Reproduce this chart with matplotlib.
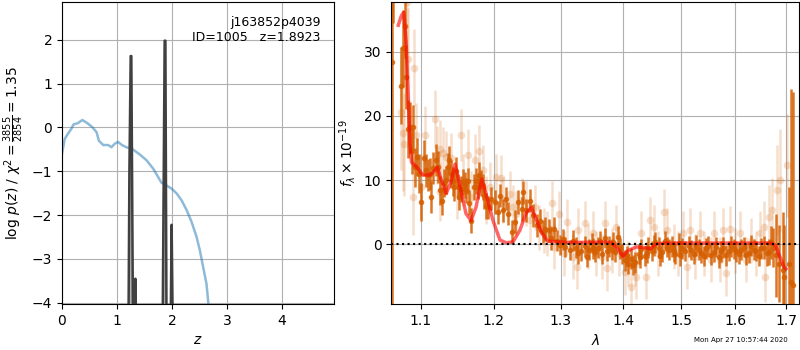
import numpy as np
import matplotlib
matplotlib.use('Agg')
import matplotlib.pyplot as plt
from matplotlib.ticker import NullLocator, FormatStrFormatter

# chi2 curve (scaled) vs redshift
chi_z = [0.00, 0.05, 0.11, 0.17, 0.21, 0.29, 0.37, 0.46, 0.55, 0.63, 0.67, 0.75,
         0.84, 0.90, 0.96, 1.02, 1.09, 1.17, 1.29, 1.42, 1.54, 1.66, 1.75, 1.81,
         1.90, 2.00, 2.09, 2.18, 2.27, 2.36, 2.45, 2.51, 2.57, 2.63, 2.67]
chi_y = [-0.60, -0.26, -0.14, -0.03, 0.07, 0.10, 0.17, 0.10, 0.01, -0.11, -0.30, -0.40,
         -0.40, -0.45, -0.37, -0.33, -0.40, -0.45, -0.50, -0.62, -0.75, -0.94, -1.13, -1.26,
         -1.32, -1.40, -1.51, -1.67, -1.89, -2.16, -2.50, -2.81, -3.19, -3.57, -4.10]

# log p(z)
pz_z = [0.00, 1.210, 1.226, 1.250, 1.262, 1.292, 1.318, 1.335, 1.345,
        1.832, 1.868, 1.882, 1.902, 1.978, 1.995, 2.015, 4.95]
pz_log = [-4.5, -4.5, -1.05, 1.63, 1.63, -4.5, -4.5, -3.45, -4.5,
          -4.5, 1.98, 1.98, -4.5, -4.5, -2.22, -4.5, -4.5]

# binned spectrum
wave_bin = [1.0625, 1.0645, 1.0745, 1.0770, 1.0795, 1.0815, 1.0835, 1.0860, 1.0885, 1.0905,
            1.0925, 1.0950, 1.0975, 1.1005, 1.1043, 1.1070, 1.1096, 1.1118, 1.1140, 1.1165,
            1.1204, 1.1227, 1.1262, 1.1284, 1.1310, 1.1338, 1.1360, 1.1383, 1.1405, 1.1430,
            1.1451, 1.1473, 1.1495, 1.1519, 1.1542, 1.1565, 1.1590, 1.1610, 1.1633, 1.1655,
            1.1679, 1.1717, 1.1749, 1.1775, 1.1797, 1.1820, 1.1844, 1.1868, 1.1891, 1.1925,
            1.1960, 1.2020, 1.2060, 1.2090, 1.2130, 1.2180, 1.2210, 1.2260, 1.2310, 1.2350,
            1.2410, 1.2430, 1.2470, 1.2530, 1.2580, 1.2630, 1.2680, 1.2720, 1.2760, 1.2810,
            1.2850, 1.2890, 1.2940, 1.2990, 1.3030, 1.3070, 1.3140, 1.3190, 1.3230, 1.3270,
            1.3320, 1.3380, 1.3410, 1.3440, 1.3490, 1.3515, 1.3540, 1.3590, 1.3620, 1.3650,
            1.3700, 1.3730, 1.3760, 1.3810, 1.3840, 1.3870, 1.3920, 1.3950, 1.3980, 1.4030,
            1.4060, 1.4090, 1.4140, 1.4170, 1.4200, 1.4260, 1.4285, 1.4310, 1.4370, 1.4400,
            1.4430, 1.4490, 1.4520, 1.4550, 1.4610, 1.4635, 1.4660, 1.4720, 1.4750, 1.4780,
            1.4840, 1.4870, 1.4900, 1.4960, 1.4985, 1.5010, 1.5080, 1.5140, 1.5185, 1.5230,
            1.5275, 1.5320, 1.5365, 1.5410, 1.5455, 1.5500, 1.5550, 1.5600, 1.5645, 1.5690,
            1.5735, 1.5780, 1.5830, 1.5880, 1.5930, 1.5980, 1.6025, 1.6070, 1.6120, 1.6170,
            1.6215, 1.6260, 1.6310, 1.6360, 1.6410, 1.6460, 1.6510, 1.6560, 1.6610, 1.6660,
            1.6700, 1.6740, 1.6800, 1.6860, 1.6930, 1.6970, 1.7060, 1.7110, 1.7140]
flux_bin = [28.4, 42.0, 24.7, 30.5, 34.0, 26.1, 18.0, 18.2, 14.5, 18.2,
            12.0, 13.6, 11.0, 6.6, 13.4, 11.5, 10.8, 11.0, 7.4, 11.9,
            13.1, 12.0, 8.4, 6.8, 9.5, 10.0, 12.0, 13.1, 11.0, 9.8,
            8.9, 11.4, 9.0, 7.4, 8.6, 9.7, 9.2, 8.4, 9.9, 6.5,
            3.7, 8.9, 9.9, 9.0, 10.8, 9.5, 8.9, 7.5, 6.0, 5.8,
            7.1, 6.6, 5.0, 7.6, 5.3, 7.1, 4.8, 1.95, 3.5, 6.6,
            5.5, 8.1, 5.3, 6.8, 4.5, 3.0, 3.7, 2.0, 2.4, 2.2,
            1.0, 2.4, 0.6, -0.1, 0.8, -0.4, -0.9, 0.6, -0.5, -1.4,
            -1.0, -0.3, -1.9, -0.8, 0.2, -0.6, -1.2, -0.5, 0.5, -1.5,
            1.0, -1.0, -0.3, -0.8, 0.4, -1.2, 1.2, -0.6, -1.5, -2.5,
            -1.8, -3.0, -2.2, -3.2, -2.8, -1.5, -2.0, -0.7, -1.8, -1.3,
            -0.5, -1.0, -0.2, 0.3, -0.5, -1.8, -1.2, 0.5, -0.4, -0.8,
            -0.3, -1.1, -1.5, 0.2, -1.7, -0.6, -1.0, -0.3, -0.9, -1.5,
            -0.2, -0.8, -1.3, -1.8, -0.6, -0.3, -1.6, -1.2, -0.4, -2.0,
            -1.1, -0.5, -1.7, -1.0, -0.3, -0.7, -1.1, -1.5, -0.8, -0.4,
            -1.6, -1.3, -0.2, -0.8, -1.0, -1.8, -0.6, -0.5, -1.4, -1.2,
            0.3, -0.5, -1.7, -3.0, -4.0, -5.0, -3.0, -5.8, -6.3]
err_bin = [40.0, 7.6, 6.0, 6.0, 5.0, 5.0, 4.5, 4.0, 3.5, 3.5,
           3.0, 3.0, 3.0, 3.0, 2.8, 2.5, 2.5, 2.5, 2.5, 2.5,
           2.5, 2.5, 2.2, 2.2, 2.2, 2.2, 2.2, 2.2, 2.2, 2.2,
           2.2, 2.2, 2.0, 2.0, 2.0, 2.0, 2.0, 2.0, 2.0, 2.0,
           2.0, 2.0, 2.0, 2.0, 2.0, 2.0, 2.0, 2.0, 2.0, 1.8,
           1.8, 1.8, 1.8, 1.8, 1.8, 1.8, 1.8, 1.8, 1.8, 1.8,
           1.8, 1.8, 1.8, 1.8, 1.8, 1.8, 1.8, 1.8, 1.8, 1.8,
           1.8, 1.8, 1.6, 1.6, 1.6, 1.6, 1.6, 1.6, 1.6, 1.6,
           1.6, 1.6, 1.6, 1.6, 1.6, 1.6, 1.6, 1.6, 1.6, 1.6,
           1.6, 1.6, 1.6, 1.6, 1.6, 1.6, 1.6, 1.6, 1.6, 1.6,
           1.6, 1.6, 1.6, 1.6, 1.6, 1.6, 1.6, 1.6, 1.6, 1.6,
           1.6, 1.6, 1.6, 1.6, 1.6, 1.6, 1.6, 1.6, 1.6, 1.6,
           1.6, 1.6, 1.6, 1.6, 1.6, 1.6, 1.6, 1.6, 1.6, 1.6,
           1.6, 1.6, 1.6, 1.6, 1.6, 1.6, 1.6, 1.6, 1.6, 1.6,
           1.6, 1.6, 1.6, 1.6, 1.6, 1.6, 1.6, 1.6, 1.6, 1.6,
           1.6, 1.6, 1.6, 1.6, 1.6, 1.6, 1.6, 1.8, 1.9, 2.0,
           2.5, 3.0, 6.5, 6.0, 9.0, 8.0, 12.0, 30.0, 30.0]

# individual (unbinned) spectrum points
wave_raw = [1.0750, 1.0765, 1.0780, 1.0825, 1.0840, 1.0895, 1.0913, 1.0940, 1.1010, 1.1056,
            1.1190, 1.1210, 1.1256, 1.1260, 1.1300, 1.1340, 1.1410, 1.1480, 1.1536, 1.1570,
            1.1635, 1.1680, 1.1735, 1.1790, 1.1850, 1.1890, 1.1947, 1.2027, 1.2098, 1.2138,
            1.2235, 1.2280, 1.2330, 1.2410, 1.2470, 1.2530, 1.2610, 1.2660, 1.2740, 1.2790,
            1.2865, 1.2890, 1.2970, 1.3050, 1.3100, 1.3190, 1.3250, 1.3270, 1.3375, 1.3430,
            1.3510, 1.3560, 1.3650, 1.3700, 1.3730, 1.3810, 1.3890, 1.3940, 1.4035, 1.4090,
            1.4140, 1.4200, 1.4220, 1.4310, 1.4390, 1.4460, 1.4520, 1.4600, 1.4695, 1.4750,
            1.4870, 1.4950, 1.5040, 1.5100, 1.5160, 1.5260, 1.5350, 1.5410, 1.5540, 1.5600,
            1.5720, 1.5780, 1.5820, 1.5910, 1.6000, 1.6100, 1.6200, 1.6300, 1.6400, 1.6490,
            1.6560, 1.6590, 1.6660, 1.6720, 1.6810, 1.6870, 1.7030]
flux_raw = [20.6, 17.3, 15.6, 37.7, 28.8, 7.4, 27.5, 17.0, 9.0, 17.0,
            19.5, 13.9, 14.9, 8.2, 14.2, 13.6, 13.4, 7.9, 17.0, 10.0,
            13.9, 7.4, 13.1, 14.5, 11.6, 6.9, 9.0, 10.5, 10.3, 6.9,
            7.9, 5.8, 4.8, 6.9, 6.4, 3.8, 5.8, 2.7, 2.2, 1.7,
            6.4, -0.4, 4.8, -1.4, 3.5, -1.9, -3.5, 2.2, 3.3, -0.4,
            1.7, -1.4, -1.9, 3.3, -3.7, -0.9, 2.7, -1.4, -4.3, -3.0,
            -6.6, -3.0, -5.0, 1.7, -5.0, 3.8, 2.7, -1.4, 5.1, 2.2,
            -0.4, -1.4, 1.7, -3.5, 2.2, -1.9, 1.7, -1.4, -2.4, 1.7,
            -2.4, 2.2, -4.5, 2.4, -0.9, 1.7, -2.4, 0.6, -1.4, 1.7,
            2.7, -5.0, 4.3, 5.3, 8.4, 10.0, 12.3]
err_raw = [9.0, 9.0, 8.0, 8.0, 8.0, 6.0, 6.0, 5.0, 5.0, 4.5,
           4.5, 4.5, 4.5, 4.5, 4.0, 4.0, 4.0, 4.0, 4.0, 4.0,
           4.0, 4.0, 4.0, 4.0, 3.8, 3.8, 3.8, 3.6, 3.6, 3.6,
           3.5, 3.5, 3.5, 3.5, 3.5, 3.5, 3.5, 3.5, 3.5, 3.5,
           3.5, 3.5, 3.5, 3.5, 3.5, 3.5, 3.5, 3.5, 3.5, 3.5,
           3.5, 3.5, 3.5, 3.5, 3.5, 3.5, 3.5, 3.5, 3.5, 3.5,
           3.5, 3.5, 3.5, 3.5, 3.5, 3.5, 3.5, 3.5, 3.5, 3.5,
           3.5, 3.5, 3.5, 3.5, 3.5, 3.5, 3.5, 3.5, 3.5, 3.5,
           3.5, 3.5, 3.5, 3.5, 3.5, 3.5, 3.5, 3.5, 3.5, 3.5,
           4.0, 4.0, 5.0, 5.0, 7.0, 8.0, 8.0]

# best-fit model
wave_model = [1.071, 1.075, 1.078, 1.081, 1.084, 1.086, 1.088, 1.095, 1.103, 1.112,
              1.119, 1.122, 1.126, 1.134, 1.141, 1.146, 1.153, 1.161, 1.168, 1.175,
              1.183, 1.189, 1.199, 1.209, 1.218, 1.228, 1.238, 1.247, 1.255, 1.261,
              1.271, 1.280, 1.310, 1.379, 1.389, 1.400, 1.408, 1.422, 1.437, 1.446,
              1.455, 1.469, 1.669, 1.679, 1.688, 1.696, 1.700]
flux_model = [34.1, 35.6, 36.1, 31.7, 22.4, 15.7, 12.8, 12.0, 10.8, 10.8,
              11.5, 12.0, 10.5, 7.9, 9.95, 12.5, 8.9, 4.8, 3.7, 5.8,
              10.2, 7.9, 3.7, 0.67, 0.25, 0.4, 2.2, 4.8, 5.8, 4.2,
              1.7, 0.5, 0.3, 0.35, -0.4, -1.85, -1.0, -0.4, -0.5, -0.7,
              0.0, 0.2, 0.2, -0.15, -2.0, -3.5, -3.8]

g141 = (0.8352941176470589, 0.3686274509803922, 0.0)

fig = plt.figure(figsize=(8, 3.5), dpi=100)

# redshift panel
ax = fig.add_axes([0.0775, 0.131, 0.340, 0.863])
ax.plot(chi_z, chi_y, color='tab:blue', alpha=0.5, lw=1.8)
ax.fill_between(pz_z, pz_log, -10, color='k', alpha=0.3, lw=0)
ax.plot(pz_z, pz_log, color='0.25', lw=1.8)
ax.set_xlim(0, 4.95)
ax.set_ylim(-4.03, 2.86)
ax.set_xlabel(r'$z$')
ax.set_ylabel(r'$\log\,p(z)$ / $\chi^2=\frac{3855}{2854}=1.35$')
ax.text(0.95, 0.955, 'j163852p4039\nID=1005   z=1.8923', ha='right', va='top',
        transform=ax.transAxes, fontsize=9)
ax.grid()

# spectrum panel
ax2 = fig.add_axes([0.489, 0.131, 0.510, 0.863])
ax2.errorbar(wave_raw, flux_raw, yerr=err_raw, color=g141, alpha=0.2,
             marker='o', ms=5.5, mew=0, linestyle='None', elinewidth=1.8)
ax2.errorbar(wave_bin, flux_bin, yerr=err_bin, color=g141, alpha=0.85,
             marker='o', ms=4, mew=0, linestyle='None', elinewidth=1.8)
ax2.plot(wave_model, flux_model, color='r', alpha=0.6, lw=2.5, zorder=5)
ax2.axhline(0, color='k', linestyle=':', lw=1.5, zorder=6)
ax2.set_xscale('log')
ax2.set_xticks([1.1, 1.2, 1.3, 1.4, 1.5, 1.6, 1.7])
ax2.xaxis.set_major_formatter(FormatStrFormatter('%.1f'))
ax2.xaxis.set_minor_locator(NullLocator())
ax2.set_xlim(1.062, 1.727)
ax2.set_ylim(-9.3, 37.7)
ax2.set_xlabel(r'$\lambda$')
ax2.set_ylabel(r'$f_\lambda\times10^{-19}$')
ax2.grid()

fig.text(0.985, 0.02, 'Mon Apr 27 10:57:44 2020', ha='right', va='bottom', fontsize=5)

plt.savefig('out.png', dpi=100)
